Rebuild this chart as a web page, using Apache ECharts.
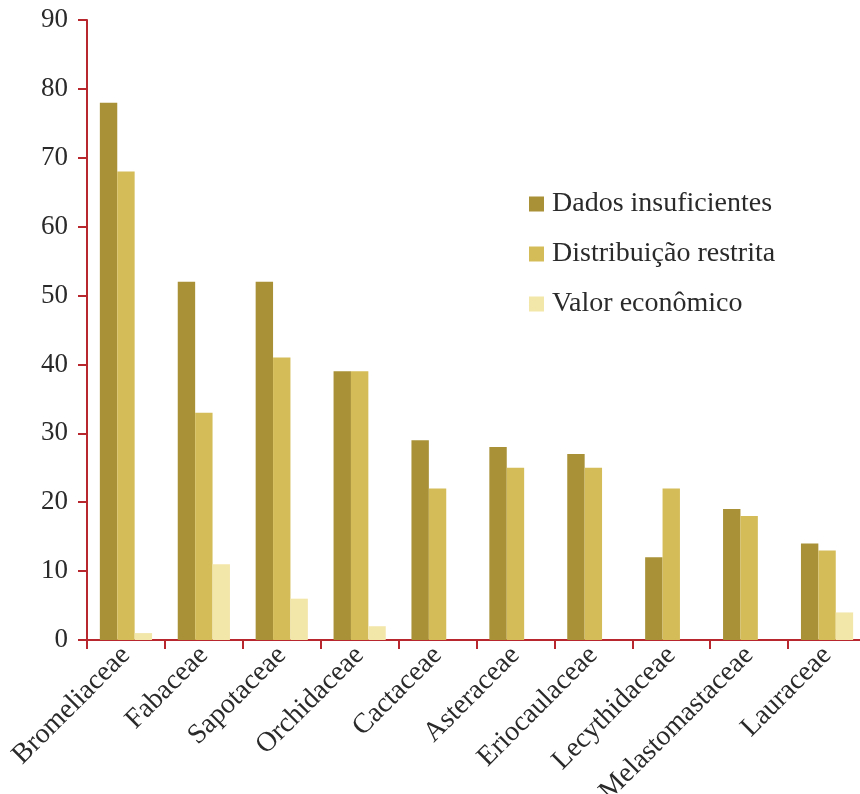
<!DOCTYPE html>
<html><head><meta charset="utf-8">
<script src="https://cdn.jsdelivr.net/npm/echarts@6/dist/echarts.min.js"></script>
<style>html,body{margin:0;padding:0;background:#fff}#c{width:860px;height:794px}</style>
</head><body><div id="c"></div>
<script>
const categories = ['Bromeliaceae','Fabaceae','Sapotaceae','Orchidaceae','Cactaceae','Asteraceae','Eriocaulaceae','Lecythidaceae','Melastomastaceae','Lauraceae'];
const dadosInsuficientes = [78, 52, 52, 39, 29, 28, 27, 12, 19, 14];
const distribuicaoRestrita = [68, 33, 41, 39, 22, 25, 25, 22, 18, 13];
const valorEconomico = [1, 11, 6, 2, 0, 0, 0, 0, 0, 4];
const seriesNames = ['Dados insuficientes','Distribuição restrita','Valor econômico'];
const yTicks = [0,10,20,30,40,50,60,70,80,90];

const font = '"Liberation Serif", "DejaVu Serif", serif';
const red = '#B8262E';
const chart = echarts.init(document.getElementById('c'));
chart.setOption({
  animation: false,
  backgroundColor: '#fff',
  textStyle: {fontFamily: font},
  grid: {left: 87, top: 20, bottom: 154, width: 779, containLabel: false, outerBoundsMode: 'none'},
  legend: {
    orient: 'vertical', left: 524, top: 185,
    itemWidth: 15, itemHeight: 15, itemGap: 22,
    icon: 'rect',
    textStyle: {fontFamily: font, fontSize: 28, color: '#2a2a2a', lineHeight: 26, padding: [0,0,0,3]},
    data: seriesNames
  },
  xAxis: {
    type: 'category', data: categories,
    axisLine: {lineStyle: {color: red, width: 2}},
    axisTick: {show: true, length: 9, lineStyle: {color: red, width: 2}},
    axisLabel: {rotate: 45, fontFamily: font, fontSize: 28, color: '#2a2a2a', margin: 11, interval: 0}
  },
  yAxis: {
    type: 'value', min: yTicks[0], max: yTicks[yTicks.length-1], interval: 10,
    splitLine: {show: false},
    axisLine: {show: true, lineStyle: {color: red, width: 2}},
    axisTick: {show: true, length: 9, lineStyle: {color: red, width: 2}},
    axisLabel: {fontFamily: font, fontSize: 27, color: '#2a2a2a', margin: 19}
  },
  series: [
    {name: seriesNames[0], type: 'bar', data: dadosInsuficientes, barGap: '0%', barCategoryGap: '33%', itemStyle: {color: '#A89137'}},
    {name: seriesNames[1], type: 'bar', data: distribuicaoRestrita, barGap: '0%', barCategoryGap: '33%', itemStyle: {color: '#D4BD58'}},
    {name: seriesNames[2], type: 'bar', data: valorEconomico, barGap: '0%', barCategoryGap: '33%', itemStyle: {color: '#F3E6A9'}}
  ]
});
</script></body></html>
